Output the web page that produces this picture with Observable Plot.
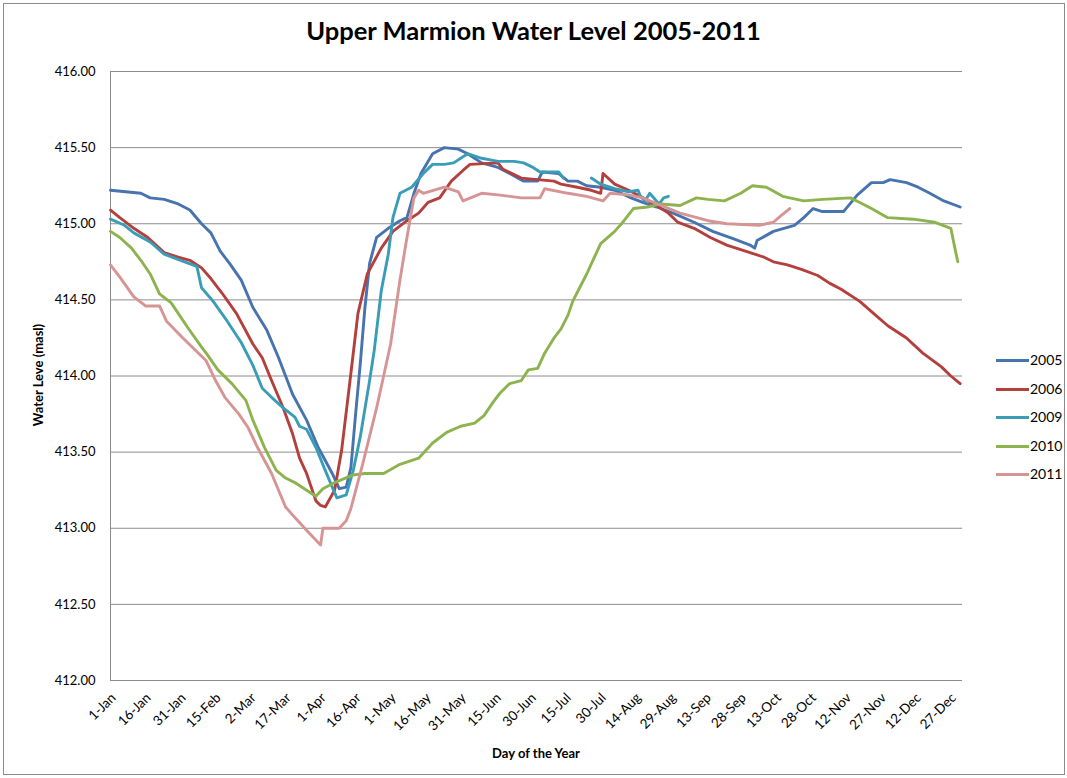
<!DOCTYPE html>
<html>
<head>
<meta charset="utf-8">
<script src="https://cdn.jsdelivr.net/npm/d3@7"></script>
<script src="https://cdn.jsdelivr.net/npm/@observablehq/plot@0.6"></script>
<style>
  html, body { margin: 0; padding: 0; background: #fff; }
  #wrap { position: relative; width: 1067px; height: 778px; font-family: Lato, "Open Sans", sans-serif; overflow: hidden; }
  #frame { position: absolute; left: 3px; top: 3px; width: 1062px; height: 772px; border: 1px solid #8c8c8c; box-sizing: border-box; pointer-events: none; }
  #title { position: absolute; left: 0; width: 1067px; top: 15px; text-align: center; font-weight: bold; font-size: 25.5px; }
  #ylab { position: absolute; left: 38px; top: 375px; transform: translate(-50%, -50%) rotate(-90deg); font-weight: bold; font-size: 13px; white-space: nowrap; }
  #xlab { position: absolute; left: 0; width: 1072px; top: 745px; text-align: center; font-weight: bold; font-size: 13px; }
  #legend { position: absolute; left: 996px; top: 350px; font-size: 14px; }
  .item { position: absolute; left: 0; height: 20px; width: 70px; }
  .sw { position: absolute; left: 0; top: 9px; width: 33px; height: 3px; }
  .lt { position: absolute; left: 34px; top: 0; line-height: 20px; }
  #chart { position: absolute; left: 0; top: 0; }
</style>
</head>
<body>
<div id="wrap">
  <div id="chart"></div>
  <div id="title">Upper Marmion Water Level 2005-2011</div>
  <div id="ylab">Water Leve (masl)</div>
  <div id="xlab">Day of the Year</div>
  <div id="legend"></div>
  <div id="frame"></div>
</div>
<script>
// ---- Data (day = days after 1-Jan, level = water level in masl) ----
const years = ["2005", "2006", "2009", "2010", "2011"];
const colors = ["#4773AE", "#B3403D", "#3A9DB8", "#8DB34F", "#D69594"];

const day2005 = [0,13,17,23,29,34,39,43,47,51,56,61,67,72,78,84,89,95,98,101,103,105,107,109,111,114,119,124,127,130,133,138,143,149,153,159,166,171,177,183,185,192,196,200,204,210,216,223,228,234,241,250,258,267,274,276,277,284,293,297,301,305,314,320,326,331,334,341,346,351,357,364];
const lvl2005 = [415.22,415.20,415.17,415.16,415.13,415.09,415.00,414.94,414.82,414.74,414.63,414.45,414.30,414.12,413.88,413.71,413.53,413.36,413.26,413.27,413.40,413.75,414.08,414.45,414.74,414.91,414.97,415.02,415.04,415.20,415.33,415.46,415.50,415.49,415.46,415.40,415.37,415.33,415.28,415.28,415.34,415.33,415.28,415.28,415.25,415.24,415.22,415.17,415.14,415.11,415.07,415.01,414.95,414.90,414.86,414.84,414.89,414.95,414.99,415.04,415.10,415.08,415.08,415.19,415.27,415.27,415.29,415.27,415.24,415.20,415.15,415.11];

const day2006 = [0,4,10,16,23,29,34,39,43,48,54,61,65,69,74,78,81,84,88,90,92,96,99,103,106,110,116,121,127,132,136,141,146,151,154,166,168,176,190,193,200,206,210,211,216,222,227,234,239,243,250,257,264,274,280,284,290,296,303,308,313,321,327,333,341,348,356,360,364];
const lvl2006 = [415.09,415.04,414.97,414.91,414.81,414.78,414.76,414.71,414.64,414.54,414.41,414.21,414.12,413.97,413.79,413.62,413.46,413.36,413.18,413.15,413.14,413.25,413.51,414.02,414.41,414.67,414.84,414.95,415.02,415.07,415.14,415.17,415.28,415.35,415.39,415.40,415.36,415.30,415.28,415.26,415.24,415.22,415.20,415.33,415.26,415.22,415.18,415.12,415.07,415.01,414.97,414.91,414.86,414.81,414.78,414.75,414.73,414.70,414.66,414.61,414.57,414.49,414.41,414.33,414.25,414.15,414.06,414.00,413.95];

// null marks a break in the 2009 record
const day2009 = [0,6,10,17,23,30,37,39,44,50,56,61,65,69,74,79,81,84,88,92,95,97,101,104,107,111,113,116,119,121,124,129,134,138,143,147,153,159,166,173,177,181,184,192,194,200,206,210,216,222,226,227,229,231,235,237,239];
const lvl2009 = [415.03,414.99,414.94,414.88,414.80,414.76,414.72,414.58,414.49,414.36,414.22,414.07,413.92,413.86,413.79,413.73,413.67,413.65,413.53,413.38,413.27,413.20,413.22,413.38,413.60,413.97,414.17,414.56,414.80,415.04,415.20,415.24,415.33,415.39,415.39,415.40,415.46,415.43,415.41,415.41,415.40,415.37,415.34,415.34,415.30,null,415.30,415.26,415.23,415.21,415.22,415.18,415.15,415.20,415.13,415.17,415.18];

const day2010 = [0,4,9,13,17,21,26,33,39,41,46,52,58,61,66,71,75,79,84,88,91,96,104,109,117,124,132,138,144,150,156,160,164,167,171,176,179,183,186,190,193,196,198,204,210,216,220,224,230,236,244,251,256,263,270,275,281,288,297,305,317,321,326,333,344,353,360,362,363];
const lvl2010 = [414.95,414.91,414.84,414.76,414.67,414.54,414.48,414.32,414.19,414.15,414.04,413.95,413.84,413.71,413.53,413.38,413.33,413.30,413.25,413.21,413.26,413.30,413.35,413.36,413.36,413.42,413.46,413.56,413.63,413.67,413.69,413.74,413.83,413.89,413.95,413.97,414.04,414.05,414.15,414.25,414.31,414.40,414.49,414.67,414.87,414.95,415.02,415.10,415.11,415.13,415.12,415.17,415.16,415.15,415.20,415.25,415.24,415.18,415.15,415.16,415.17,415.14,415.10,415.04,415.03,415.01,414.97,414.82,414.75];

const day2011 = [0,4,10,15,21,24,31,41,45,49,55,59,63,69,75,79,85,90,91,98,101,103,108,114,120,124,127,130,132,134,143,149,151,159,166,176,184,186,196,204,211,214,222,228,236,244,256,264,278,284,287,291];
const lvl2011 = [414.73,414.65,414.52,414.46,414.46,414.36,414.25,414.10,413.97,413.86,413.75,413.66,413.53,413.36,413.14,413.07,412.97,412.89,413.00,413.00,413.05,413.13,413.42,413.79,414.21,414.63,414.91,415.17,415.22,415.20,415.24,415.21,415.15,415.20,415.19,415.17,415.17,415.23,415.20,415.18,415.15,415.20,415.19,415.17,415.12,415.07,415.02,415.00,414.99,415.01,415.05,415.10];

const yTicks = [412.00, 412.50, 413.00, 413.50, 414.00, 414.50, 415.00, 415.50, 416.00];
const xTickDays = [0,15,30,45,60,75,90,105,120,135,150,165,180,195,210,225,240,255,270,285,300,315,330,345,360];
const xTickLabels = ["1-Jan","16-Jan","31-Jan","15-Feb","2-Mar","17-Mar","1-Apr","16-Apr","1-May","16-May","31-May","15-Jun","30-Jun","15-Jul","30-Jul","14-Aug","29-Aug","13-Sep","28-Sep","13-Oct","28-Oct","12-Nov","27-Nov","12-Dec","27-Dec"];

// ---- Build table ----
const series = {
  "2005": [day2005, lvl2005],
  "2006": [day2006, lvl2006],
  "2009": [day2009, lvl2009],
  "2010": [day2010, lvl2010],
  "2011": [day2011, lvl2011]
};
const rows = [];
for (const y of years) {
  const [ds, ls] = series[y];
  ds.forEach((d, i) => rows.push({ year: y, day: d, level: ls[i] == null ? NaN : ls[i] }));
}
const labelByDay = new Map(xTickDays.map((d, i) => [d, xTickLabels[i]]));
const grid = "#8c8c8c";

const chart = Plot.plot({
  width: 1067,
  height: 778,
  marginLeft: 110,
  marginRight: 105,
  marginTop: 71,
  marginBottom: 98,
  style: { fontFamily: "Lato, 'Open Sans', sans-serif", fontSize: "13px", color: "#000", background: "transparent" },
  x: { domain: [0, 365] },
  y: { domain: [412, 416] },
  color: { domain: years, range: colors },
  marks: [
    Plot.ruleY(yTicks.slice(1), { stroke: grid, strokeWidth: 1 }),
    Plot.ruleY([412], { stroke: grid, strokeWidth: 1 }),
    Plot.ruleX([0], { stroke: grid, strokeWidth: 1 }),
    Plot.axisY({ ticks: yTicks, tickFormat: d => d.toFixed(2), tickSize: 0, tickPadding: 15, label: null, fontSize: 13 }),
    Plot.axisX({ ticks: xTickDays, tickFormat: d => labelByDay.get(d), tickRotate: -45, tickSize: 0, tickPadding: 12, dx: 3, dy: 3, label: null, fontSize: 13.5 }),
    Plot.line(rows, { x: "day", y: "level", z: "year", stroke: "year", strokeWidth: 2.9, strokeLinejoin: "round", curve: "linear" })
  ]
});
document.getElementById("chart").appendChild(chart);

// ---- Legend ----
const legend = document.getElementById("legend");
const legendTops = [0, 28.5, 57, 85.5, 114];
years.forEach((y, i) => {
  const it = document.createElement("div");
  it.className = "item";
  it.style.top = legendTops[i] + "px";
  it.innerHTML = `<div class="sw" style="background:${colors[i]}"></div><div class="lt">${y}</div>`;
  legend.appendChild(it);
});
</script>
</body>
</html>
